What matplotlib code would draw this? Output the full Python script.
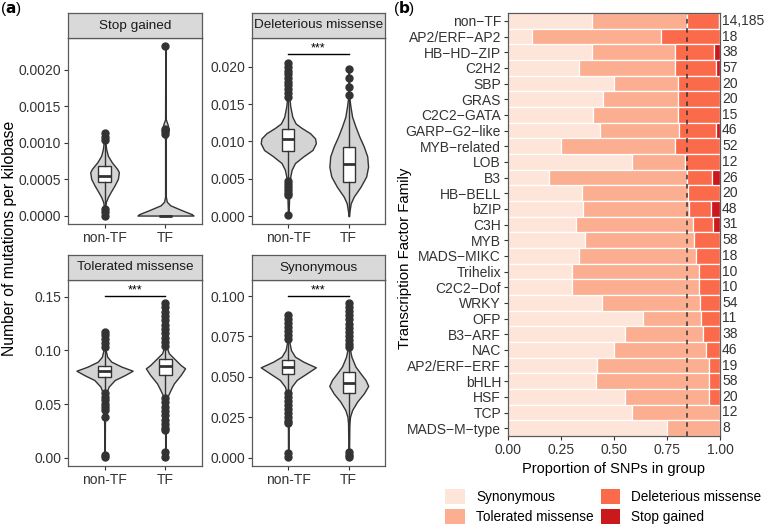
import numpy as np
import matplotlib
matplotlib.use("Agg")
import matplotlib.pyplot as plt
from matplotlib.patches import Patch

plt.rcParams['font.family'] = ['Liberation Sans', 'DejaVu Sans']

W, H = 766, 530

# ---------------- panel (a) data ----------------
groups = ["non-TF", "TF"]

# violin outlines: values (bottom -> top) and half widths (category units)
stop_nontf_y = [0.0, 0.000095, 0.000186, 0.000254, 0.000322, 0.000413, 0.000503, 0.000594, 0.000639, 0.00073, 0.000821, 0.000912, 0.00105, 0.00113]
stop_nontf_w = [0.003, 0.006, 0.022, 0.055, 0.10, 0.164, 0.219, 0.235, 0.208, 0.12, 0.055, 0.027, 0.008, 0.003]
stop_tf_y = [0.0, 0.00002, 0.000073, 0.00014, 0.00019, 0.00026, 0.00105, 0.00112, 0.00118, 0.00125, 0.00132, 0.0019, 0.00232]
stop_tf_w = [0.46, 0.43, 0.27, 0.08, 0.022, 0.006, 0.006, 0.035, 0.055, 0.035, 0.006, 0.004, 0.003]

del_nontf_y = [0.0, 0.0017, 0.0035, 0.0053, 0.0062, 0.0071, 0.0080, 0.00885, 0.00975, 0.0104, 0.0111, 0.0118, 0.0124, 0.0133, 0.0147, 0.0160, 0.0205]
del_nontf_w = [0.004, 0.011, 0.017, 0.033, 0.056, 0.111, 0.25, 0.40, 0.456, 0.444, 0.361, 0.222, 0.122, 0.067, 0.033, 0.017, 0.004]
del_tf_y = [0.0, 0.00058, 0.0017, 0.0026, 0.0039, 0.0053, 0.0066, 0.0080, 0.0093, 0.0106, 0.0120, 0.0133, 0.0147, 0.0158, 0.0197]
del_tf_w = [0.004, 0.011, 0.033, 0.083, 0.194, 0.289, 0.32, 0.306, 0.25, 0.178, 0.111, 0.056, 0.028, 0.011, 0.004]

tol_nontf_y = [0.0, 0.030, 0.0507, 0.060, 0.0662, 0.0724, 0.077, 0.0811, 0.0849, 0.0895, 0.0941, 0.1003, 0.1174]
tol_nontf_w = [0.004, 0.006, 0.011, 0.028, 0.067, 0.167, 0.333, 0.461, 0.278, 0.111, 0.044, 0.017, 0.004]
tol_tf_y = [0.0, 0.030, 0.0507, 0.0569, 0.0631, 0.0693, 0.0771, 0.0833, 0.0864, 0.0926, 0.0973, 0.1035, 0.1438]
tol_tf_w = [0.004, 0.006, 0.011, 0.033, 0.083, 0.139, 0.25, 0.322, 0.25, 0.139, 0.056, 0.017, 0.004]

syn_nontf_y = [0.0, 0.0213, 0.0357, 0.0398, 0.044, 0.0481, 0.0522, 0.0559, 0.0594, 0.0625, 0.0666, 0.0718, 0.0883]
syn_nontf_w = [0.004, 0.006, 0.011, 0.022, 0.056, 0.139, 0.306, 0.456, 0.25, 0.111, 0.044, 0.017, 0.004]
syn_tf_y = [0.0, 0.0213, 0.0254, 0.0295, 0.0347, 0.0398, 0.0444, 0.0481, 0.0522, 0.0564, 0.0625, 0.0677, 0.0955]
syn_tf_w = [0.004, 0.011, 0.022, 0.056, 0.139, 0.25, 0.322, 0.278, 0.194, 0.111, 0.044, 0.017, 0.004]

# box stats: whislo, q1, med, q3, whishi
stop_nontf_box = [0.00013, 0.000458, 0.000548, 0.000676, 0.00099]
stop_tf_box = [0.0, 0.0, 0.0, 0.0, 0.0]
del_nontf_box = [0.0048, 0.00876, 0.0103, 0.0116, 0.0158]
del_tf_box = [0.0, 0.0046, 0.0070, 0.0093, 0.0158]
tol_nontf_box = [0.061, 0.0749, 0.0811, 0.0858, 0.100]
tol_tf_box = [0.057, 0.0771, 0.0858, 0.0917, 0.1035]
syn_nontf_box = [0.040, 0.0515, 0.0559, 0.0604, 0.0718]
syn_tf_box = [0.021, 0.0402, 0.0465, 0.0532, 0.0677]

# outliers
stop_nontf_out = [0.00113, 0.00108, 0.00103, 0.000095, 0.00005, 0.0]
stop_tf_out = [0.00112, 0.00116, 0.00119, 0.00232]
del_nontf_out = [0.0205, 0.0200, 0.0195, 0.0190, 0.0185, 0.0180, 0.0175, 0.0170, 0.0165, 0.0160,
                 0.0047, 0.0043, 0.0039, 0.0035, 0.0031, 0.0028, 0.0001]
del_tf_out = [0.0162, 0.0173, 0.0185, 0.0197]
tol_nontf_out = [0.1174, 0.1140, 0.1105, 0.1070, 0.1035,
                 0.0600, 0.0570, 0.0540, 0.0505, 0.0475, 0.0445, 0.038, 0.0026, 0.001]
tol_tf_out = [0.1438, 0.1400, 0.1360, 0.1320, 0.1280, 0.1240, 0.1200, 0.1160, 0.1120, 0.1080, 0.1045,
              0.0553, 0.0515, 0.0475, 0.0435, 0.0395, 0.0355, 0.0315, 0.0275, 0.0258, 0.0056, 0.001]
syn_nontf_out = [0.0883, 0.0860, 0.0835, 0.0810, 0.0785, 0.0760, 0.0735,
                 0.0398, 0.0375, 0.0350, 0.0325, 0.0300, 0.0275, 0.0250, 0.0225, 0.0213, 0.0027, 0.0006]
syn_tf_out = [0.0955, 0.0930, 0.0905, 0.0880, 0.0855, 0.0830, 0.0805, 0.0780, 0.0755, 0.0730, 0.0705, 0.0685,
              0.0035, 0.0016, 0.0003]

panel_titles = ["Stop gained", "Deleterious missense", "Tolerated missense", "Synonymous"]
panel_violins = [
    [(stop_nontf_y, stop_nontf_w), (stop_tf_y, stop_tf_w)],
    [(del_nontf_y, del_nontf_w), (del_tf_y, del_tf_w)],
    [(tol_nontf_y, tol_nontf_w), (tol_tf_y, tol_tf_w)],
    [(syn_nontf_y, syn_nontf_w), (syn_tf_y, syn_tf_w)],
]
panel_boxes = [
    [(stop_nontf_box, stop_nontf_out), (stop_tf_box, stop_tf_out)],
    [(del_nontf_box, del_nontf_out), (del_tf_box, del_tf_out)],
    [(tol_nontf_box, tol_nontf_out), (tol_tf_box, tol_tf_out)],
    [(syn_nontf_box, syn_nontf_out), (syn_tf_box, syn_tf_out)],
]
panel_ticks = [
    [0.0, 0.0005, 0.0010, 0.0015, 0.0020],
    [0.0, 0.005, 0.010, 0.015, 0.020],
    [0.0, 0.05, 0.10, 0.15],
    [0.0, 0.025, 0.050, 0.075, 0.100],
]
panel_fmt = ["{:.4f}", "{:.3f}", "{:.2f}", "{:.3f}"]
panel_ylim = [(-0.000116, 0.002436), (-0.00107, 0.02386), (-0.0077, 0.1656), (-0.0051, 0.1099)]
signif_y = [None, 0.0217, 0.1507, 0.1000]

# ---------------- panel (b) data ----------------
families = ["non−TF", "AP2/ERF−AP2", "HB−HD−ZIP", "C2H2", "SBP", "GRAS", "C2C2−GATA",
            "GARP−G2−like", "MYB−related", "LOB", "B3", "HB−BELL", "bZIP", "C3H", "MYB",
            "MADS−MIKC", "Trihelix", "C2C2−Dof", "WRKY", "OFP", "B3−ARF", "NAC",
            "AP2/ERF−ERF", "bHLH", "HSF", "TCP", "MADS−M−type"]
counts = ["14,185", "18", "38", "57", "20", "20", "15", "46", "52", "12", "26", "20", "48",
          "31", "58", "18", "10", "10", "54", "11", "38", "46", "19", "58", "20", "12", "8"]
p_syn = [0.397, 0.111, 0.395, 0.333, 0.50, 0.45, 0.40, 0.435, 0.25, 0.583, 0.192, 0.35, 0.354,
         0.323, 0.362, 0.333, 0.30, 0.30, 0.444, 0.636, 0.553, 0.50, 0.421, 0.414, 0.55, 0.583, 0.75]
p_tol = [0.446, 0.611, 0.395, 0.456, 0.30, 0.35, 0.40, 0.370, 0.538, 0.25, 0.654, 0.50, 0.50,
         0.548, 0.517, 0.556, 0.60, 0.60, 0.463, 0.273, 0.368, 0.435, 0.526, 0.534, 0.40, 0.417, 0.25]
p_del = [0.154, 0.278, 0.184, 0.193, 0.20, 0.20, 0.20, 0.174, 0.212, 0.167, 0.115, 0.15, 0.104,
         0.097, 0.121, 0.111, 0.10, 0.10, 0.093, 0.091, 0.079, 0.065, 0.053, 0.052, 0.05, 0.0, 0.0]
p_stop = [0.003, 0.0, 0.026, 0.018, 0.0, 0.0, 0.0, 0.022, 0.0, 0.0, 0.038, 0.0, 0.042,
          0.032, 0.0, 0.0, 0.0, 0.0, 0.0, 0.0, 0.0, 0.0, 0.0, 0.0, 0.0, 0.0, 0.0]
nontf_line = 0.843
class_names = ["Synonymous", "Tolerated missense", "Deleterious missense", "Stop gained"]
class_colors = ["#FEE5D9", "#FCAE91", "#FB6A4A", "#CB181D"]

text_col = "#333333"
border_col = "#5a5a5a"


def rect(x0, y0, x1, y1):
    return [x0 / W, 1 - y1 / H, (x1 - x0) / W, (y1 - y0) / H]


fig = plt.figure(figsize=(W / 100, H / 100), dpi=100)

panel_px = [(68, 38, 202, 224), (252, 38, 385, 224), (68, 280, 202, 466), (252, 280, 385, 466)]

for k in range(4):
    x0, y0, x1, y1 = panel_px[k]
    ax = fig.add_axes(rect(x0, y0, x1, y1))
    # strip
    sax = fig.add_axes(rect(x0, y0 - 25, x1, y0))
    sax.set_facecolor("#D9D9D9")
    sax.set_xticks([])
    sax.set_yticks([])
    for s in sax.spines.values():
        s.set_color(border_col)
        s.set_linewidth(0.9)
    sax.text(0.5, 0.5, panel_titles[k], ha="center", va="center", fontsize=9.7,
             color="#1a1a1a", transform=sax.transAxes)

    for i, (vy, vw) in enumerate(panel_violins[k]):
        vy = np.array(vy)
        vw = np.array(vw)
        ax.fill_betweenx(vy, i + 1 - vw, i + 1 + vw, facecolor="#D4D4D4",
                         edgecolor="#333333", linewidth=1.0, zorder=1)

    stats = []
    for (b, out) in panel_boxes[k]:
        stats.append(dict(whislo=b[0], q1=b[1], med=b[2], q3=b[3], whishi=b[4], fliers=out))
    ax.bxp(stats, positions=[1, 2], widths=0.2, patch_artist=True, showcaps=False,
           boxprops=dict(facecolor="white", edgecolor="#333333", linewidth=1.0),
           medianprops=dict(color="#333333", linewidth=2.0),
           whiskerprops=dict(color="#333333", linewidth=1.0),
           flierprops=dict(marker="o", markersize=5, markerfacecolor="#333333",
                           markeredgecolor="#333333"),
           zorder=2)

    if signif_y[k] is not None:
        ax.plot([1, 2], [signif_y[k], signif_y[k]], color="black", linewidth=1.0)
        ax.text(1.5, signif_y[k], "***", ha="center", va="bottom", fontsize=9, color="black")

    ax.set_xlim(0.4, 2.6)
    ax.set_ylim(*panel_ylim[k])
    ax.set_xticks([1, 2])
    ax.set_xticklabels(groups)
    ax.set_yticks(panel_ticks[k])
    ax.set_yticklabels([panel_fmt[k].format(t) for t in panel_ticks[k]])
    ax.tick_params(labelsize=10, colors=text_col, length=3, width=0.8, pad=2)
    for s in ax.spines.values():
        s.set_color(border_col)
        s.set_linewidth(0.9)

fig.text(10 / W, 1 - 238 / H, "Number of mutations per kilobase", rotation=90,
         ha="center", va="center", fontsize=11.3, color="black")
fig.text(0 / W, 1 - 9 / H, r"($\mathbf{a}$)", ha="left", va="center", fontsize=11)
fig.text(393 / W, 1 - 9 / H, r"($\mathbf{b}$)", ha="left", va="center", fontsize=11)

# ---------------- panel (b) ----------------
bx = fig.add_axes(rect(508, 13, 720, 436))
ypos = np.arange(len(families))
left = np.zeros(len(families))
for name, col, vals in zip(class_names, class_colors, [p_syn, p_tol, p_del, p_stop]):
    vals = np.array(vals)
    bx.barh(ypos, vals, left=left, height=1.0, color=col, edgecolor="white", linewidth=0.9)
    left = left + vals
bx.axvline(nontf_line, color="#333333", linestyle=(0, (3, 3)), linewidth=1.1)
bx.set_ylim(len(families) - 0.5, -0.5)
bx.set_xlim(0, 1.0)
bx.set_yticks(ypos)
bx.set_yticklabels(families)
bx.set_xticks([0, 0.25, 0.5, 0.75, 1.0])
bx.set_xticklabels(["0.00", "0.25", "0.50", "0.75", "1.00"])
bx.tick_params(labelsize=10, colors=text_col, length=3, width=0.8, pad=2)
for s in bx.spines.values():
    s.set_color(border_col)
    s.set_linewidth(0.9)
for i, c in enumerate(counts):
    bx.text(1.01, i, c, ha="left", va="center", fontsize=10, color=text_col,
            transform=bx.get_yaxis_transform())
bx.set_xlabel("Proportion of SNPs in group", fontsize=10.5, labelpad=4)
fig.text(405 / W, 1 - 258 / H, "Transcription Factor Family", rotation=90,
         ha="center", va="center", fontsize=10.8, color="black")

handles = [Patch(facecolor=c, edgecolor="none") for c in class_colors]
fig.legend(handles, class_names, ncol=2, loc="upper left",
           bbox_to_anchor=(440 / W, 1 - 484 / H), frameon=False, fontsize=9.8,
           handlelength=1.45, handleheight=1.3, handletextpad=0.8,
           columnspacing=0.5, labelspacing=0.35, borderaxespad=0)

fig.savefig("out.png", dpi=100)
